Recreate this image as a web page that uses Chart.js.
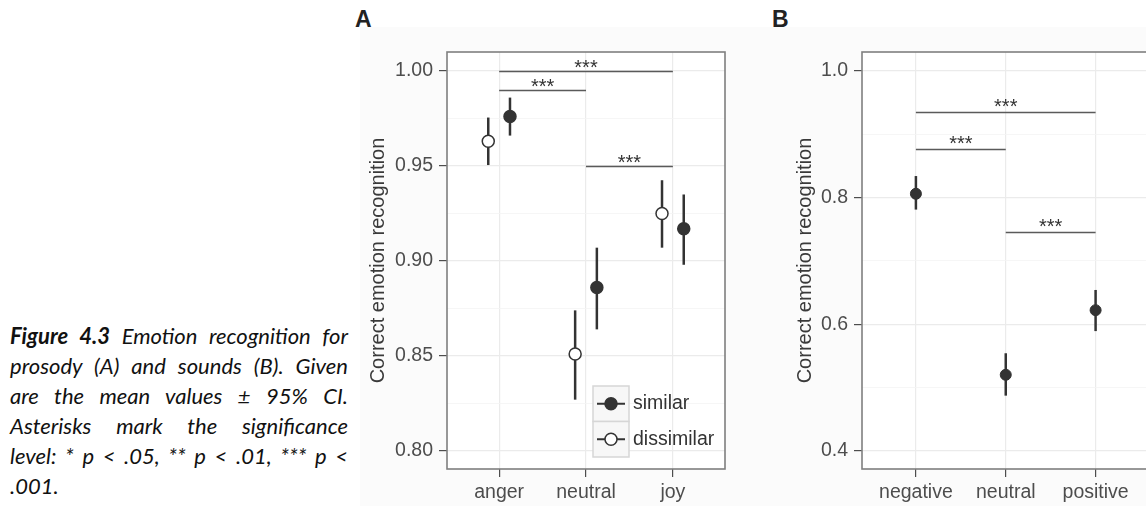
<!DOCTYPE html>
<html>
<head>
<meta charset="utf-8">
<script src="https://cdn.jsdelivr.net/npm/chart.js@4"></script>
<style>
  html, body { margin: 0; padding: 0; background: #fff; }
  body { width: 1146px; height: 506px; position: relative; overflow: hidden; }
  canvas { position: absolute; top: 0; }
  #chartA { left: 360px; }
  #chartB { left: 740px; }
  .panel { position: absolute; top: 6px; font: bold 23px "Liberation Sans", Arial, sans-serif; color: #222; }
  #caption { position: absolute; left: 10px; top: 321px; width: 338px;
    font: italic 22px Lato, "Open Sans", sans-serif; line-height: 30px; color: #111; }
  #caption div { text-align: justify; text-align-last: justify; white-space: nowrap; }
  #caption div.last { text-align-last: left; }
</style>
</head>
<body>
<div class="panel" style="left:355px">A</div>
<div class="panel" style="left:772px">B</div>
<div id="caption">
  <div><b>Figure 4.3</b> Emotion recognition for</div>
  <div>prosody (A) and sounds (B). Given</div>
  <div>are the mean values ± 95% CI.</div>
  <div>Asterisks mark the significance</div>
  <div>level: * p &lt; .05, ** p &lt; .01, *** p &lt;</div>
  <div class="last">.001.</div>
</div>
<canvas id="chartA" width="380" height="506"></canvas>
<canvas id="chartB" width="416" height="506"></canvas>
<script>
// panel A: prosody
const catsA = ['anger', 'neutral', 'joy'];
const simMean = [0.976, 0.886, 0.917];
const simLow = [0.966, 0.864, 0.898];
const simHigh = [0.986, 0.907, 0.935];
const disMean = [0.963, 0.851, 0.925];
const disLow = [0.9505, 0.827, 0.907];
const disHigh = [0.9755, 0.874, 0.9425];
const sigFromA = [0, 0, 1];
const sigToA = [2, 1, 2];
const sigYA = [1.00, 0.99, 0.95];

// panel B: sounds
const catsB = ['negative', 'neutral', 'positive'];
const bMean = [0.806, 0.520, 0.622];
const bLow = [0.781, 0.487, 0.589];
const bHigh = [0.834, 0.554, 0.654];
const sigFromB = [0, 0, 1];
const sigToB = [2, 1, 2];
const sigYB = [0.935, 0.877, 0.746];

const dodge = 0.125;
const dark = '#333333';
const tickFont = { family: '"Liberation Sans", Arial, sans-serif', size: 19.5 };

function pts(mean, shift) {
  return mean.map((v, i) => ({ x: i + shift, y: v }));
}

// error bars, brackets, border, legend - all through the chart scales
const extras = {
  id: 'extras',
  beforeDraw(chart) {
    const c = chart.ctx, a = chart.chartArea;
    c.save();
    c.fillStyle = '#fbfbfb';
    c.fillRect(0, 27, chart.width, chart.height - 27);
    c.fillStyle = '#fff';
    c.fillRect(a.left, a.top, a.right - a.left, a.bottom - a.top);
    c.restore();
  },
  beforeDatasetsDraw(chart, args, opts) {
    const c = chart.ctx, xs = chart.scales.x, ys = chart.scales.y;
    c.save();
    c.strokeStyle = dark;
    c.lineWidth = opts.barWidth;
    opts.bars.forEach(b => {
      b.low.forEach((lo, i) => {
        const px = xs.getPixelForValue(i + b.shift);
        c.beginPath();
        c.moveTo(px, ys.getPixelForValue(lo));
        c.lineTo(px, ys.getPixelForValue(b.high[i]));
        c.stroke();
      });
    });
    // significance brackets
    c.strokeStyle = '#5a5a5a';
    c.lineWidth = 1.3;
    c.fillStyle = '#333';
    c.font = '20px "Liberation Sans", Arial, sans-serif';
    c.textAlign = 'center';
    c.textBaseline = 'alphabetic';
    opts.sig.y.forEach((v, i) => {
      const x1 = xs.getPixelForValue(opts.sig.from[i]);
      const x2 = xs.getPixelForValue(opts.sig.to[i]);
      const py = Math.round(ys.getPixelForValue(v)) + 0.5;
      c.beginPath();
      c.moveTo(x1, py);
      c.lineTo(x2, py);
      c.stroke();
      c.fillText('***', (x1 + x2) / 2, py + opts.sigText);
    });
    c.restore();
  },
  afterDraw(chart, args, opts) {
    const c = chart.ctx, a = chart.chartArea;
    c.save();
    c.strokeStyle = '#7f7f7f';
    c.lineWidth = 1.6;
    c.strokeRect(a.left, a.top, a.right - a.left, a.bottom - a.top);
    if (opts.legend) {
      const L = a.right - 132, T = a.bottom - 83, h = 35.5, w = 36;
      chart.data.datasets.forEach((ds, i) => {
        const top = T + i * h, cy = top + h / 2;
        c.fillStyle = '#f7f7f7';
        c.fillRect(L, top, w, h);
        c.strokeStyle = '#d6d6d6';
        c.lineWidth = 1.5;
        c.strokeRect(L, top, w, h);
        c.strokeStyle = dark;
        c.lineWidth = 2;
        c.beginPath();
        c.moveTo(L + 4, cy);
        c.lineTo(L + w - 4, cy);
        c.stroke();
        c.beginPath();
        c.arc(L + w / 2, cy, 6, 0, Math.PI * 2);
        c.fillStyle = ds.backgroundColor;
        c.fill();
        c.lineWidth = 1.5;
        c.stroke();
        c.fillStyle = '#333';
        c.font = '19.5px "Liberation Sans", Arial, sans-serif';
        c.textAlign = 'left';
        c.textBaseline = 'middle';
        c.fillText(ds.label, L + w + 4, cy);
      });
    }
    c.restore();
  }
};

function yScale(min, max, step, major, digits, width) {
  const isMajor = v => Math.abs(v / major - Math.round(v / major)) < 1e-6;
  return {
    type: 'linear', min: min, max: max,
    afterFit: s => { s.width = width; },
    border: { display: false },
    grid: {
      color: ctx => ctx.tick && isMajor(ctx.tick.value) ? '#ebebeb' : '#f4f4f4',
      lineWidth: ctx => ctx.tick && isMajor(ctx.tick.value) ? 1.2 : 0.8,
      tickColor: ctx => ctx.tick && isMajor(ctx.tick.value) ? '#4d4d4d' : 'rgba(0,0,0,0)',
      tickLength: 8
    },
    ticks: {
      stepSize: step, includeBounds: false, padding: 6,
      color: '#4d4d4d', font: tickFont,
      callback: v => isMajor(v) ? v.toFixed(digits) : ''
    },
    title: {
      display: true, text: 'Correct emotion recognition', color: '#3a3a3a',
      font: { family: '"Liberation Sans", Arial, sans-serif', size: 20 }
    }
  };
}

function xScale(cats) {
  return {
    type: 'linear', min: -0.6, max: 2.6,
    afterFit: s => { s.height = 37; },
    border: { display: false },
    grid: { color: '#ebebeb', lineWidth: 1.2, tickColor: '#4d4d4d', tickLength: 8 },
    ticks: {
      stepSize: 1, includeBounds: false, padding: 4,
      color: '#4d4d4d', font: tickFont,
      callback: v => cats[v] || ''
    }
  };
}

new Chart(document.getElementById('chartA'), {
  type: 'scatter',
  data: {
    datasets: [
      { label: 'similar', data: pts(simMean, dodge), backgroundColor: dark, borderColor: dark,
        pointRadius: 6, pointBorderWidth: 1.5 },
      { label: 'dissimilar', data: pts(disMean, -dodge), backgroundColor: '#ffffff', borderColor: dark,
        pointRadius: 6, pointBorderWidth: 1.5 }
    ]
  },
  options: {
    responsive: false, animation: false, devicePixelRatio: 1,
    layout: { padding: { left: 2, right: 15, top: 52, bottom: 0 } },
    scales: { x: xScale(catsA), y: yScale(0.7905, 1.01, 0.025, 0.05, 2, 85) },
    plugins: {
      legend: { display: false }, tooltip: { enabled: false },
      extras: {
        barWidth: 2.5, legend: true, sigText: 2,
        bars: [
          { shift: dodge, low: simLow, high: simHigh },
          { shift: -dodge, low: disLow, high: disHigh }
        ],
        sig: { from: sigFromA, to: sigToA, y: sigYA }
      }
    }
  },
  plugins: [extras]
});

new Chart(document.getElementById('chartB'), {
  type: 'scatter',
  data: {
    datasets: [
      { label: 'sounds', data: pts(bMean, 0), backgroundColor: dark, borderColor: dark,
        pointRadius: 5.5, pointBorderWidth: 1 }
    ]
  },
  options: {
    responsive: false, animation: false, devicePixelRatio: 1,
    layout: { padding: { left: 49, right: 5, top: 52, bottom: 0 } },
    scales: { x: xScale(catsB), y: yScale(0.3711, 1.03, 0.1, 0.2, 1, 73) },
    plugins: {
      legend: { display: false }, tooltip: { enabled: false },
      extras: {
        barWidth: 2.5, legend: false, sigText: 0,
        bars: [{ shift: 0, low: bLow, high: bHigh }],
        sig: { from: sigFromB, to: sigToB, y: sigYB }
      }
    }
  },
  plugins: [extras]
});
</script>
</body>
</html>
